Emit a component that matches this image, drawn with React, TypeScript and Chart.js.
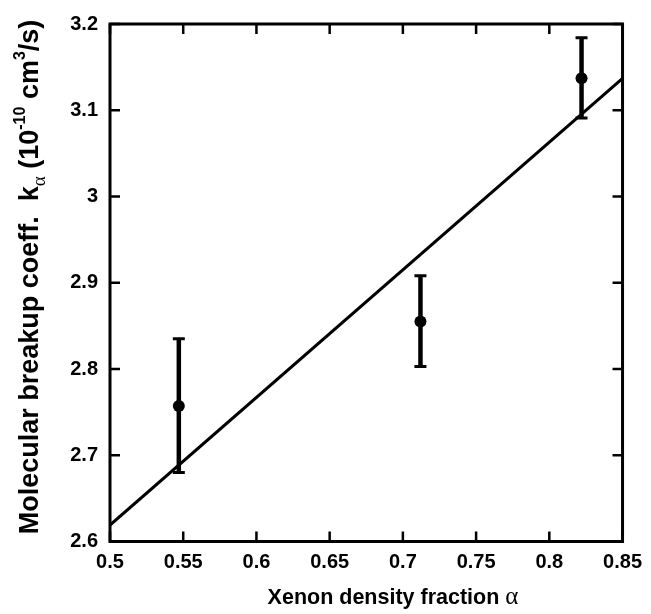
import React, { useEffect, useRef } from 'react';
import { Chart, registerables } from 'chart.js';

Chart.register(...registerables);

// ---- data ----
const xTicks = [0.5, 0.55, 0.6, 0.65, 0.7, 0.75, 0.8, 0.85];
const yTicks = [2.6, 2.7, 2.8, 2.9, 3.0, 3.1, 3.2];
const alphaValues = [0.547, 0.712, 0.822];
const kValues = [2.757, 2.855, 3.137];
const kErrLow = [2.68, 2.803, 3.091];
const kErrHigh = [2.835, 2.908, 3.184];
const fitX = [0.5, 0.85];
const fitY = [2.619, 3.137];

const SANS = "'Liberation Sans', Arial, Helvetica, sans-serif";
const SERIF = "'Liberation Serif', 'Times New Roman', serif";

const fmt = (v: number) => String(Number(v.toFixed(2)));

const framePlugin = {
  id: 'frame',
  beforeDatasetsDraw(chart: any) {
    const { ctx, scales } = chart;
    const xs = scales.x;
    const ys = scales.y;
    ctx.save();
    ctx.strokeStyle = '#000';
    alphaValues.forEach((a, i) => {
      const px = xs.getPixelForValue(a);
      const pLo = ys.getPixelForValue(kErrLow[i]);
      const pHi = ys.getPixelForValue(kErrHigh[i]);
      ctx.lineWidth = 4.5;
      ctx.beginPath();
      ctx.moveTo(px, pLo);
      ctx.lineTo(px, pHi);
      ctx.stroke();
      ctx.lineWidth = 3;
      ctx.beginPath();
      ctx.moveTo(px - 6, pLo);
      ctx.lineTo(px + 6, pLo);
      ctx.moveTo(px - 6, pHi);
      ctx.lineTo(px + 6, pHi);
      ctx.stroke();
    });
    ctx.restore();
  },
  afterDraw(chart: any) {
    const { ctx, chartArea, scales } = chart;
    const { left, right, top, bottom } = chartArea;
    const xs = scales.x;
    const ys = scales.y;
    ctx.save();
    ctx.strokeStyle = '#000';
    // ticks inward, mirrored
    ctx.lineWidth = 2.5;
    ctx.beginPath();
    xTicks.forEach((v) => {
      const px = xs.getPixelForValue(v);
      ctx.moveTo(px, bottom);
      ctx.lineTo(px, bottom - 10);
      ctx.moveTo(px, top);
      ctx.lineTo(px, top + 10);
    });
    yTicks.forEach((v) => {
      const py = ys.getPixelForValue(v);
      ctx.moveTo(left, py);
      ctx.lineTo(left + 10, py);
      ctx.moveTo(right, py);
      ctx.lineTo(right - 10, py);
    });
    ctx.stroke();
    // box
    ctx.lineWidth = 3;
    ctx.strokeRect(left, top, right - left, bottom - top);

    // x title
    ctx.fillStyle = '#000';
    ctx.textBaseline = 'alphabetic';
    ctx.textAlign = 'left';
    const xMain = 'Xenon density fraction ';
    const xFont = `bold 21.5px ${SANS}`;
    const aFont = `25px ${SERIF}`;
    ctx.font = xFont;
    const w1 = ctx.measureText(xMain).width;
    ctx.font = aFont;
    const w2 = ctx.measureText('α').width;
    const cx = 393;
    const sx = cx - (w1 + w2) / 2;
    ctx.font = xFont;
    ctx.fillText(xMain, sx, 604);
    ctx.font = aFont;
    ctx.fillText('α', sx + w1, 604);

    // y title (rotated) with sub/superscripts
    type Piece = { t: string; font: string; dy: number };
    const big = `bold 27px ${SANS}`;
    const small = `bold 16px ${SANS}`;
    const pieces: Piece[] = [
      { t: 'Molecular breakup coeff.  k', font: big, dy: 0 },
      { t: 'α', font: `19px ${SERIF}`, dy: 7 },
      { t: ' (10', font: big, dy: 0 },
      { t: '-10', font: small, dy: -13 },
      { t: ' cm', font: big, dy: 0 },
      { t: '3', font: small, dy: -13 },
      { t: '/s)', font: big, dy: 0 },
    ];
    let total = 0;
    const widths = pieces.map((p) => {
      ctx.font = p.font;
      const w = ctx.measureText(p.t).width;
      total += w;
      return w;
    });
    ctx.translate(38, 277);
    ctx.rotate(-Math.PI / 2);
    let px = -total / 2;
    pieces.forEach((p, i) => {
      ctx.font = p.font;
      ctx.fillText(p.t, px, p.dy);
      px += widths[i];
    });
    ctx.restore();
  },
};

export default function App() {
  const ref = useRef<HTMLCanvasElement>(null);
  useEffect(() => {
    if (!ref.current) return;
    const chart = new Chart(ref.current, {
      type: 'scatter',
      data: {
        datasets: [
          {
            type: 'line',
            data: fitX.map((x, i) => ({ x, y: fitY[i] })),
            borderColor: '#000',
            borderWidth: 3,
            pointRadius: 0,
            fill: false,
          } as any,
          {
            data: alphaValues.map((x, i) => ({ x, y: kValues[i] })),
            pointRadius: 6,
            backgroundColor: '#000',
            borderColor: '#000',
            borderWidth: 0,
          },
        ],
      },
      options: {
        animation: false,
        responsive: false,
        devicePixelRatio: 1,
        layout: { padding: { top: 23, right: 23, left: 0, bottom: 0 } },
        plugins: { legend: { display: false }, tooltip: { enabled: false } },
        scales: {
          x: {
            type: 'linear',
            min: 0.5,
            max: 0.85,
            afterBuildTicks: (s: any) => {
              s.ticks = xTicks.map((v) => ({ value: v }));
            },
            afterFit: (s: any) => {
              s.height = 72.5;
            },
            ticks: {
              callback: (v: any) => fmt(Number(v)),
              font: { family: SANS, size: 20, weight: 'bold' },
              color: '#000',
              padding: 9,
              maxRotation: 0,
              autoSkip: false,
            },
            grid: { display: false, drawTicks: false },
            border: { display: false },
          },
          y: {
            type: 'linear',
            min: 2.6,
            max: 3.2,
            afterBuildTicks: (s: any) => {
              s.ticks = yTicks.map((v) => ({ value: v }));
            },
            afterFit: (s: any) => {
              s.width = 110;
            },
            ticks: {
              callback: (v: any) => fmt(Number(v)),
              font: { family: SANS, size: 20, weight: 'bold' },
              color: '#000',
              padding: 12,
              autoSkip: false,
            },
            grid: { display: false, drawTicks: false },
            border: { display: false },
          },
        },
      },
      plugins: [framePlugin],
    });
    return () => chart.destroy();
  }, []);
  return (
    <div style={{ position: 'absolute', left: 0, top: 0, width: 651, height: 614, background: '#fff' }}>
      <canvas ref={ref} width={651} height={614} style={{ display: 'block' }} />
    </div>
  );
}
